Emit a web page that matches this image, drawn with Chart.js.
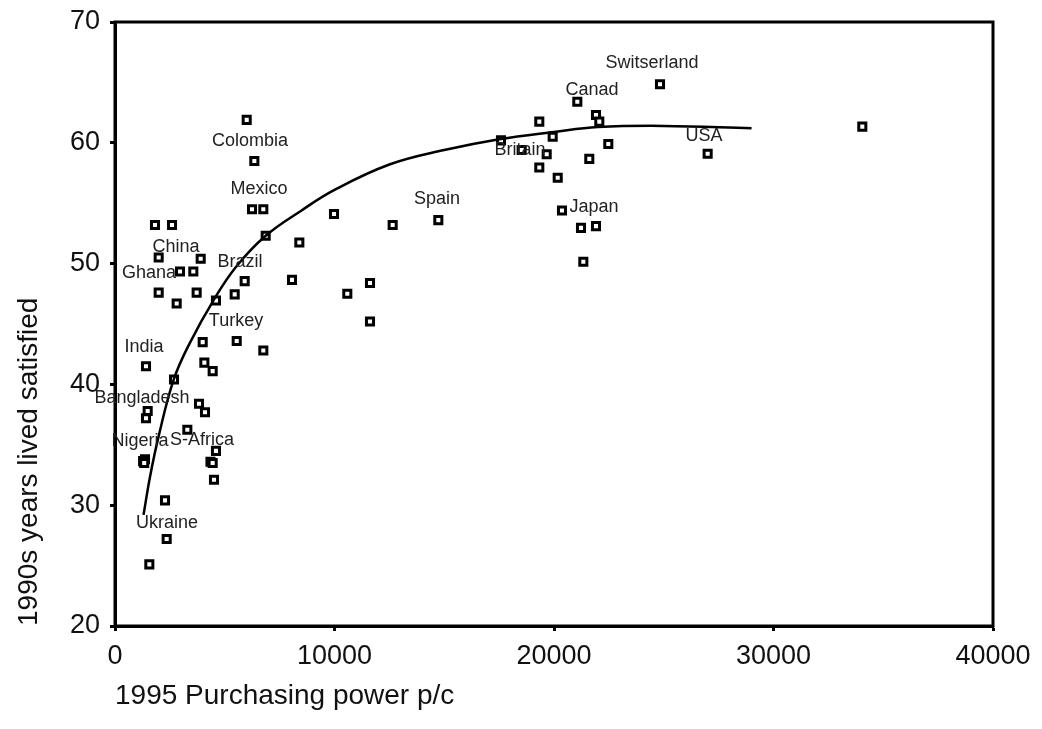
<!DOCTYPE html>
<html lang="en">
<head>
  <meta charset="UTF-8">
  <title>Satisfaction vs purchasing power</title>
  <script src="https://cdn.jsdelivr.net/npm/chart.js"></script>
  <style>
    html, body { margin: 0; padding: 0; background: #fff; }
    #wrap { width: 1042px; height: 729px; }
  </style>
</head>
<body>
  <div id="wrap"><canvas id="chart" width="1042" height="729"></canvas></div>

  <script>
    // countries: purchasing power 1995 (x) and years lived satisfied (y)
    const countryX = [1822, 2597, 1990, 3904, 2961, 3568, 1990, 3720, 2810, 4600,
      5453, 5908, 8064, 6865, 6242, 6757, 8398, 3995, 5545, 6757,
      1412, 4071, 4450, 2688, 3827, 4100, 1489, 1412, 3295, 4600,
      4350, 4450, 4510, 1367, 1280, 1330, 2278, 2354, 1564, 6000,
      6348, 9977, 12650, 14730, 11617, 10583, 11617, 24829, 21062, 21913,
      22064, 19330, 17585, 19940, 22474, 18528, 19667, 21608, 19330, 20169,
      27000, 20364, 21230, 21913, 21336, 34046];
    const countryY = [53.2, 53.2, 50.5, 50.4, 49.35, 49.35, 47.6, 47.6, 46.7, 46.95,
      47.45, 48.55, 48.65, 52.3, 54.5, 54.5, 51.75, 43.5, 43.6, 42.8,
      41.5, 41.8, 41.1, 40.4, 38.4, 37.7, 37.8, 37.2, 36.25, 34.5,
      33.6, 33.5, 32.1, 33.8, 33.65, 33.5, 30.4, 27.2, 25.1, 61.9,
      58.5, 54.1, 53.2, 53.6, 48.4, 47.5, 45.2, 64.85, 63.4, 62.3,
      61.75, 61.75, 60.2, 60.5, 59.9, 59.4, 59.05, 58.67, 57.95, 57.1,
      59.1, 54.4, 52.96, 53.1, 50.15, 61.34];

    // fitted curve
    const fitX = [1300, 1600, 2000, 2674, 3400, 4500, 5500, 6865, 8500, 10000,
      12500, 15000, 17500, 20000, 22000, 25000, 29000];
    const fitY = [29.2, 32.4, 35.8, 40.4, 43.4, 47.0, 49.7, 52.3, 54.4, 56.1,
      58.2, 59.4, 60.3, 60.9, 61.3, 61.4, 61.2];

    // country name labels (placed in data units)
    const labelNames = ["Switserland", "Canad", "Colombia", "Mexico", "USA", "Britain", "Spain",
      "Japan", "China", "Brazil", "Ghana", "Turkey", "India", "Bangladesh", "Nigeria",
      "S-Africa", "Ukraine"];
    const labelX = [24465, 21731, 6150, 6560, 26834, 18451, 14670, 21822, 2779, 5695,
      1549, 5513, 1321, 1230, 1139, 3964, 2369];
    const labelY = [66.6, 64.4, 60.15, 56.2, 60.57, 59.4, 55.36, 54.7, 51.4, 50.15,
      49.24, 45.27, 43.1, 38.9, 35.34, 35.43, 28.56];

    const xTicks = [0, 10000, 20000, 30000, 40000];
    const yTicks = [20, 30, 40, 50, 60, 70];

    const FONT = "'Liberation Sans', Arial, Helvetica, sans-serif";

    // box around the plot + the country names
    const extras = {
      id: "extras",
      afterDraw(chart) {
        const ctx = chart.ctx;
        const a = chart.chartArea;
        ctx.save();
        ctx.strokeStyle = "#000";
        ctx.lineWidth = 3;
        ctx.strokeRect(a.left, a.top, a.right - a.left, a.bottom - a.top);

        ctx.font = "18px " + FONT;
        ctx.fillStyle = "#222";
        ctx.textAlign = "center";
        ctx.textBaseline = "middle";
        labelNames.forEach((name, i) => {
          const px = chart.scales.x.getPixelForValue(labelX[i]);
          const py = chart.scales.y.getPixelForValue(labelY[i]);
          ctx.fillText(name, px, py);
        });
        ctx.restore();
      }
    };

    const points = countryX.map((x, i) => ({ x: x, y: countryY[i] }));
    const curve = fitX.map((x, i) => ({ x: x, y: fitY[i] }));

    const ctx = document.getElementById("chart").getContext("2d");
    new Chart(ctx, {
      type: "scatter",
      data: {
        datasets: [
          {
            label: "fit",
            data: curve,
            showLine: true,
            borderColor: "#000",
            borderWidth: 2.5,
            pointRadius: 0,
            tension: 0.4,
            fill: false
          },
          {
            label: "countries",
            data: points,
            pointStyle: "rect",
            pointRadius: 5,
            pointBorderWidth: 3,
            pointBorderColor: "#000",
            pointBackgroundColor: "#fff"
          }
        ]
      },
      options: {
        responsive: false,
        animation: false,
        layout: { padding: { left: 0, top: 22, right: 49, bottom: 0 } },
        plugins: {
          legend: { display: false },
          tooltip: { enabled: false }
        },
        scales: {
          x: {
            type: "linear",
            min: 0,
            max: 40000,
            afterBuildTicks: s => { s.ticks = xTicks.map(v => ({ value: v })); },
            afterFit: s => { s.height = 103; s.paddingLeft = 0; s.paddingRight = 0; },
            border: { display: true, color: "#000", width: 3 },
            grid: { drawOnChartArea: false, drawTicks: true, tickLength: 5, tickWidth: 3, tickColor: "#000" },
            ticks: {
              color: "#111",
              font: { family: FONT, size: 27 },
              padding: 9,
              maxRotation: 0,
              callback: v => String(v)
            },
            title: {
              display: true,
              text: "1995 Purchasing power p/c",
              align: "start",
              color: "#111",
              font: { family: FONT, size: 28 },
              padding: { top: 0, bottom: 16 }
            }
          },
          y: {
            type: "linear",
            min: 20,
            max: 70,
            afterBuildTicks: s => { s.ticks = yTicks.map(v => ({ value: v })); },
            afterFit: s => { s.width = 115; s.paddingTop = 0; s.paddingBottom = 0; },
            border: { display: true, color: "#000", width: 3 },
            grid: { drawOnChartArea: false, drawTicks: true, tickLength: 5, tickWidth: 3, tickColor: "#000" },
            ticks: { color: "#111", font: { family: FONT, size: 27 }, padding: 10 },
            title: {
              display: true,
              text: "1990s years lived satisfied",
              align: "start",
              color: "#111",
              font: { family: FONT, size: 28 },
              padding: { top: 12, bottom: 0 }
            }
          }
        }
      },
      plugins: [extras]
    });
  </script>
</body>
</html>
